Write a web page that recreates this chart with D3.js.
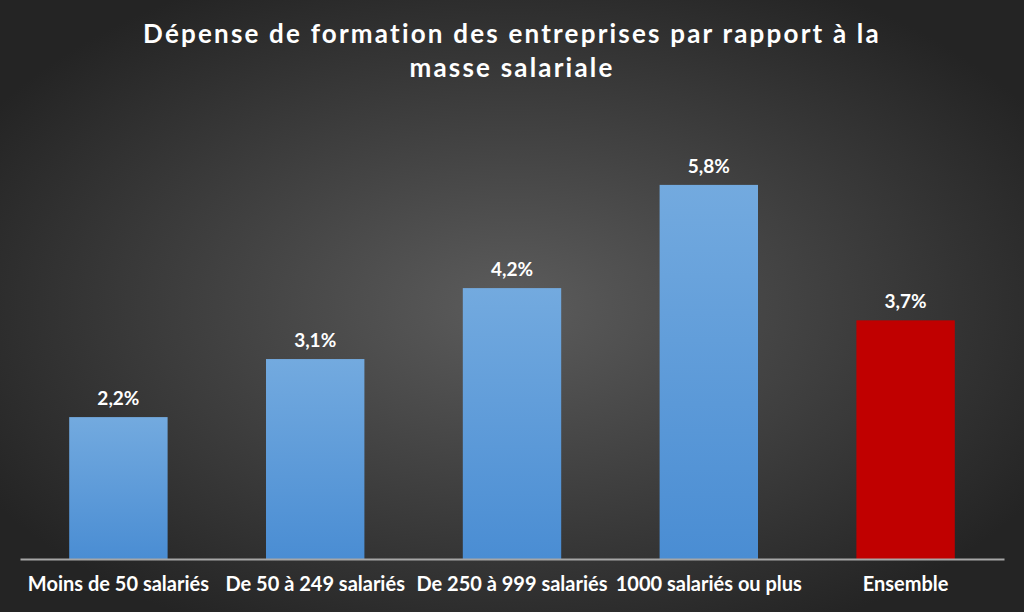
<!DOCTYPE html>
<html><head><meta charset="utf-8">
<script src="https://cdn.jsdelivr.net/npm/d3@7"></script>
<style>html,body{margin:0;padding:0;background:#333;}svg{display:block;}</style>
</head><body>
<svg id="c" width="1024" height="612"></svg>
<script>
const categories = ["Moins de 50 salariés","De 50 à 249 salariés","De 250 à 999 salariés","1000 salariés ou plus","Ensemble"];
const values = [2.2, 3.1, 4.2, 5.8, 3.7];
const valueLabels = ["2,2%","3,1%","4,2%","5,8%","3,7%"];
const titleLines = ["Dépense de formation des entreprises par rapport à la","masse salariale"];

const W = 1024, H = 612;
const svg = d3.select("#c");
const defs = svg.append("defs");
const bg = defs.append("radialGradient").attr("id","bg").attr("cx","50%").attr("cy","50%").attr("r","60%");
bg.append("stop").attr("offset","0%").attr("stop-color","#5c5c5c");
bg.append("stop").attr("offset","100%").attr("stop-color","#242424");
const bl = defs.append("linearGradient").attr("id","blue").attr("x1",0).attr("y1",0).attr("x2",0).attr("y2",1);
bl.append("stop").attr("offset","0%").attr("stop-color","#73aadf");
bl.append("stop").attr("offset","100%").attr("stop-color","#4a8dd3");
svg.append("rect").attr("width",W).attr("height",H).attr("fill","url(#bg)");

const font = "Lato, 'Open Sans', sans-serif";
svg.append("g").selectAll("text").data(titleLines).join("text")
  .attr("x",512).attr("y",(d,i)=>43+i*34).attr("text-anchor","middle")
  .attr("fill","#ffffff").attr("font-family",font).attr("font-weight","bold")
  .attr("font-size",26).attr("letter-spacing",2.2).text(d=>d);

const x = d3.scaleBand().domain(categories).range([20,1004]).paddingInner(0.5).paddingOuter(0.25);
const y = d3.scaleLinear().domain([0,7]).range([559,559-7*64.5]);

svg.append("g").selectAll("rect").data(values).join("rect")
  .attr("x",(d,i)=>x(categories[i])).attr("width",x.bandwidth())
  .attr("y",d=>y(d)).attr("height",d=>y(0)-y(d))
  .attr("fill",(d,i)=>i===categories.length-1?"#c00000":"url(#blue)");

svg.append("g").selectAll("text").data(values).join("text")
  .attr("x",(d,i)=>x(categories[i])+x.bandwidth()/2).attr("y",d=>y(d)-12)
  .attr("text-anchor","middle").attr("fill","#ffffff").attr("font-family",font)
  .attr("font-weight","bold").attr("font-size",19).text((d,i)=>valueLabels[i]);

const ax = svg.append("g").attr("transform","translate(0,559)")
  .call(d3.axisBottom(x).tickSize(0).tickPadding(18));
ax.select(".domain").attr("stroke","#a6a6a6").attr("stroke-width",2);
ax.selectAll("text").attr("fill","#ffffff").attr("font-family",font)
  .attr("font-weight","bold").attr("font-size",20);
</script>
</body></html>
